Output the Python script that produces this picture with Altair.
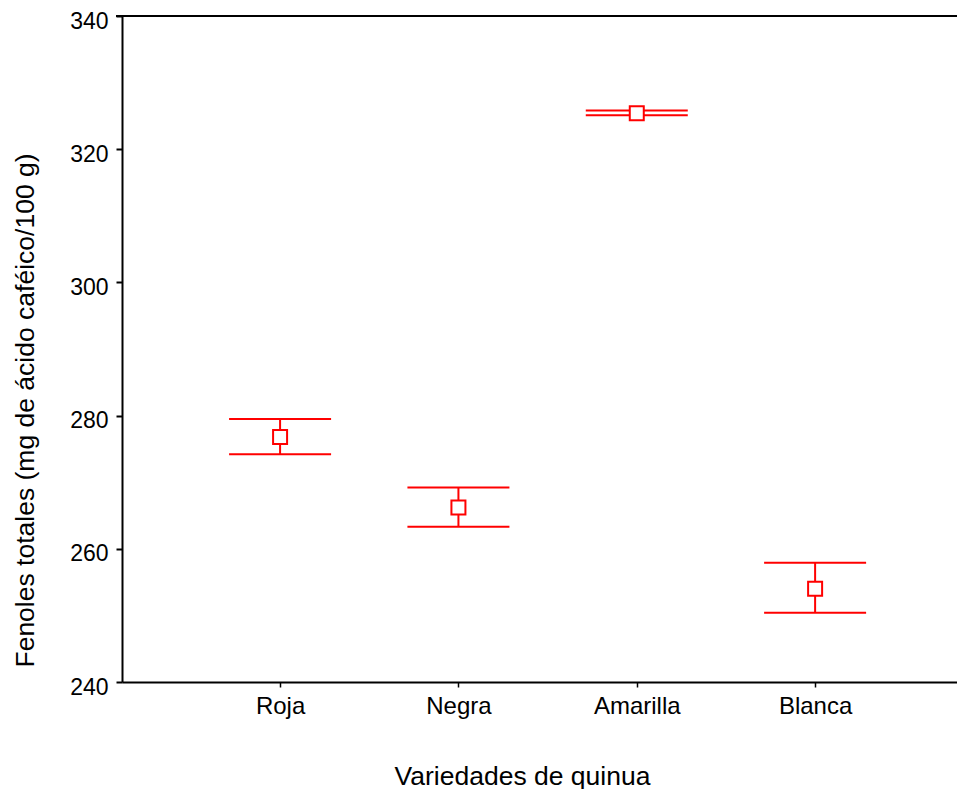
import altair as alt
import pandas as pd

categories = ["Roja", "Negra", "Amarilla", "Blanca"]
means = [276.8, 266.2, 325.4, 254.0]
upper = [279.5, 269.2, 325.8, 257.9]
lower = [274.2, 263.3, 325.1, 250.4]
y_ticks = [240, 260, 280, 300, 320, 340]

df = pd.DataFrame({"cat": categories, "mean": means, "hi": upper, "lo": lower})
top_df = pd.DataFrame({"y": [340]})

FONT = "Liberation Sans"
RED = "#ff0000"
W, H = 835, 666

xenc = alt.X(
    "cat:N",
    sort=categories,
    scale=alt.Scale(type="point", padding=0.841, align=0.527),
    axis=alt.Axis(
        title="Variedades de quinua",
        labelAngle=0,
        tickSize=5,
        tickWidth=1.5,
        tickColor="black",
        domainColor="black",
        domainWidth=2,
        labelFontSize=24,
        labelFont=FONT,
        labelColor="black",
        labelPadding=7,
        titleFontSize=26.5,
        titleFont=FONT,
        titleFontWeight="normal",
        titleColor="black",
        titlePadding=45,
        titleX=400,
        grid=False,
    ),
)
yscale = alt.Scale(domain=[240, 340], nice=False, zero=False)
yaxis = alt.Axis(
    title="Fenoles totales (mg de ácido caféico/100 g)",
    values=y_ticks,
    tickSize=6,
    tickWidth=2,
    tickColor="black",
    domainColor="black",
    domainWidth=2,
    labelFontSize=23,
    labelFont=FONT,
    labelColor="black",
    labelPadding=8,
    labelOffset=5,
    titleFontSize=26.5,
    titleFont=FONT,
    titleFontWeight="normal",
    titleColor="black",
    titleBaseline="alphabetic",
    titleX=-89,
    titleY=394,
    grid=False,
)

base = alt.Chart(df)

vline = base.mark_rule(color=RED, strokeWidth=2).encode(
    x=xenc, y=alt.Y("lo:Q", scale=yscale, axis=yaxis), y2="hi:Q"
)
cap_hi = base.mark_tick(color=RED, orient="horizontal", size=102, thickness=2, opacity=1).encode(
    x=alt.X("cat:N", sort=categories), y=alt.Y("hi:Q")
)
cap_lo = base.mark_tick(color=RED, orient="horizontal", size=102, thickness=2, opacity=1).encode(
    x=alt.X("cat:N", sort=categories), y=alt.Y("lo:Q")
)
pts = base.mark_point(
    shape="square", size=196, filled=True, fill="white", stroke=RED, strokeWidth=2, opacity=1
).encode(x=alt.X("cat:N", sort=categories), y=alt.Y("mean:Q"))

topline = alt.Chart(top_df).mark_rule(color="black", strokeWidth=2).encode(
    y=alt.Y("y:Q", scale=yscale), x=alt.value(-6), x2=alt.value(W)
)

chart = (
    alt.layer(vline, cap_hi, cap_lo, pts, topline)
    .properties(
        width=W,
        height=H,
        autosize=alt.AutoSizeParams(type="none"),
        padding={"left": 114, "top": 8, "right": 0, "bottom": 107},
    )
    .configure_view(stroke="transparent", strokeWidth=0)
    .configure(background="white")
)

chart.save("out.html", embed_options={"renderer": "svg", "actions": False})
